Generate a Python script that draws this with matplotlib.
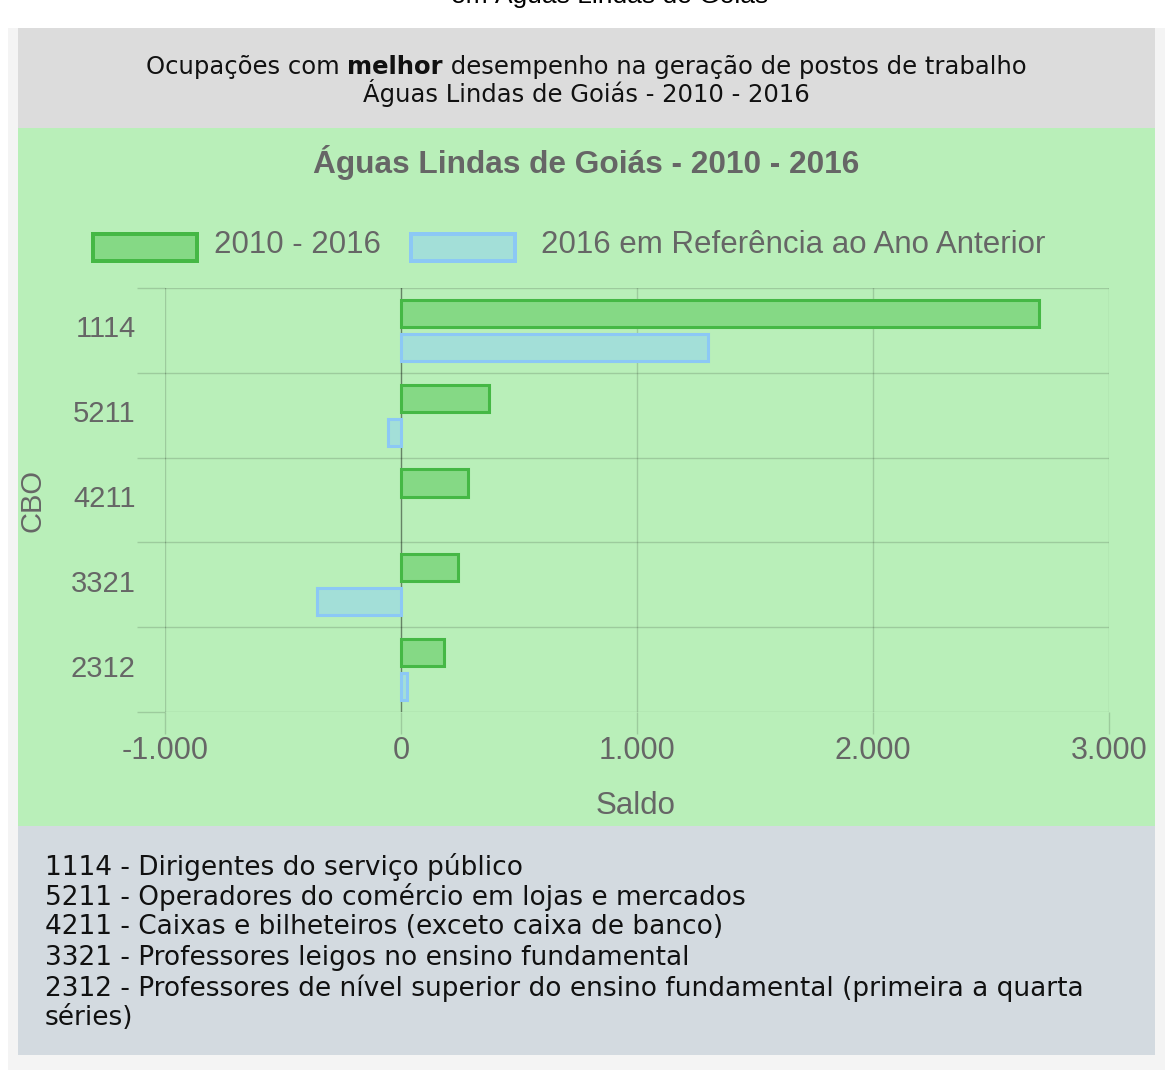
import matplotlib
matplotlib.use('Agg')
import matplotlib.pyplot as plt
import matplotlib.transforms as mtransforms
from matplotlib.patches import Rectangle
import numpy as np

# dados do grafico
cbo = ['1114', '5211', '4211', '3321', '2312']
saldo_periodo = [2705, 372, 283, 241, 182]      # 2010 - 2016
saldo_ano = [1302, -55, 0, -355, 25]            # 2016 em ref. ao ano anterior
x_ticks = [-1000, 0, 1000, 2000, 3000]
x_labels = ['-1.000', '0', '1.000', '2.000', '3.000']
descricoes = [
    '1114 - Dirigentes do serviço público',
    '5211 - Operadores do comércio em lojas e mercados',
    '4211 - Caixas e bilheteiros (exceto caixa de banco)',
    '3321 - Professores leigos no ensino fundamental',
    '2312 - Professores de nível superior do ensino fundamental (primeira a quarta',
    'séries)',
]

W, H = 1171, 1073
fig = plt.figure(figsize=(W / 100, H / 100), dpi=100)
fig.patch.set_facecolor('white')


def px_rect(x0, y0, x1, y1, color, z=-2):
    # retangulo em pixels (origem no topo)
    fig.patches.append(Rectangle((x0 / W, 1 - y1 / H), (x1 - x0) / W, (y1 - y0) / H,
                                 transform=fig.transFigure, facecolor=color,
                                 edgecolor='none', zorder=z))


def px_text(x, y, s, **kw):
    return fig.text(x / W, 1 - y / H, s, **kw)


# paineis de fundo
px_rect(8, 28, 1165, 1070, '#f4f4f4')
px_rect(18, 28, 1155, 128, '#dcdcdc')
px_rect(18, 128, 1155, 826, '#b9efb9')
px_rect(18, 826, 1155, 1055, '#d3dae0')

# texto cortado no topo (como no original)
px_text(610, 3, 'em Águas Lindas de Goiás', ha='center', va='baseline',
        fontsize=19, family='Liberation Sans', color='black')

# cabecalho com palavra em negrito
fig.canvas.draw()
renderer = fig.canvas.get_renderer()
partes = [('Ocupações com ', 'normal'), ('melhor', 'bold'),
          (' desempenho na geração de postos de trabalho', 'normal')]
objs = []
for s, w in partes:
    objs.append(px_text(0, 67, s, ha='left', va='center', fontsize=17.5,
                        family='DejaVu Sans', fontweight=w, color='#111111'))
larguras = [t.get_window_extent(renderer).width for t in objs]
x = 586 - sum(larguras) / 2
for t, lw in zip(objs, larguras):
    t.set_x(x / W)
    x += lw
px_text(586, 93, 'Águas Lindas de Goiás - 2010 - 2016', ha='center', va='center',
        fontsize=17.5, family='DejaVu Sans', color='#111111')

# titulo do grafico
txt_cor = '#666666'
px_text(586, 163, 'Águas Lindas de Goiás - 2010 - 2016', ha='center', va='center',
        fontsize=22.8, family='Liberation Sans', fontweight='bold', color=txt_cor)

verde_fill, verde_edge = '#85d985', '#45b845'
azul_fill, azul_edge = '#a3dfd8', '#8cc8f5'

# legenda manual
px_rect(91, 232, 199, 263, verde_edge, z=-1)
px_rect(95, 236, 195, 259, verde_fill, z=-1)
px_text(214, 245, '2010 - 2016', ha='left', va='center', fontsize=22.5,
        family='Liberation Sans', color=txt_cor)
px_rect(409, 232, 517, 263, azul_edge, z=-1)
px_rect(413, 236, 513, 259, azul_fill, z=-1)
px_text(541, 245, '2016 em Referência ao Ano Anterior', ha='left', va='center',
        fontsize=22.5, family='Liberation Sans', color=txt_cor)

# eixo
ax = fig.add_axes([165 / W, 1 - 712 / H, (1109 - 165) / W, (712 - 288) / H])
ax.set_facecolor('none')
n = len(cbo)
centros = np.arange(n) + 0.5
ax.barh(centros - 0.2, saldo_periodo, height=0.32, color=verde_fill,
        edgecolor=verde_edge, linewidth=[2.2 if v else 0 for v in saldo_periodo],
        zorder=3)
ax.barh(centros + 0.2, saldo_ano, height=0.32, color=azul_fill,
        edgecolor=azul_edge, linewidth=[2.2 if v else 0 for v in saldo_ano],
        zorder=3)
ax.set_xlim(-1000, 3000)
ax.set_ylim(n, 0)

grid_cor = (0, 0, 0, 0.15)
for xv in x_ticks:
    ax.axvline(xv, color=(0, 0, 0, 0.45) if xv == 0 else grid_cor, lw=1, zorder=1)
for yv in range(n + 1):
    ax.axhline(yv, color=grid_cor, lw=1, zorder=1)
for s in ax.spines.values():
    s.set_visible(False)

ax.set_yticks(centros)
ax.set_yticklabels(cbo)
ax.set_yticks(range(n + 1), minor=True)
ax.tick_params(axis='y', which='major', length=0, pad=21, labelsize=21,
               labelcolor=txt_cor)
ax.tick_params(axis='y', which='minor', length=20, color=grid_cor, width=1)
sobe = mtransforms.ScaledTranslation(0, 4 / 100, fig.dpi_scale_trans)
for lbl in ax.get_yticklabels():
    lbl.set_family('Liberation Sans')
    lbl.set_transform(lbl.get_transform() + sobe)

ax.set_xticks(x_ticks)
ax.set_xticklabels(x_labels)
ax.tick_params(axis='x', which='major', length=16, color=grid_cor, width=1,
               pad=1, labelsize=22, labelcolor=txt_cor)
for lbl in ax.get_xticklabels():
    lbl.set_family('Liberation Sans')

px_text(636, 806, 'Saldo', ha='center', va='center', fontsize=22.5,
        family='Liberation Sans', color=txt_cor)
px_text(32, 500, 'CBO', ha='center', va='center', rotation=90, fontsize=21,
        family='Liberation Sans', color=txt_cor)

# descricoes no rodape
for i, d in enumerate(descricoes):
    px_text(45, 867 + i * 30.2, d, ha='left', va='center', fontsize=19,
            family='DejaVu Sans', color='#111111')

fig.savefig('out.png', dpi=100, facecolor=fig.get_facecolor())
